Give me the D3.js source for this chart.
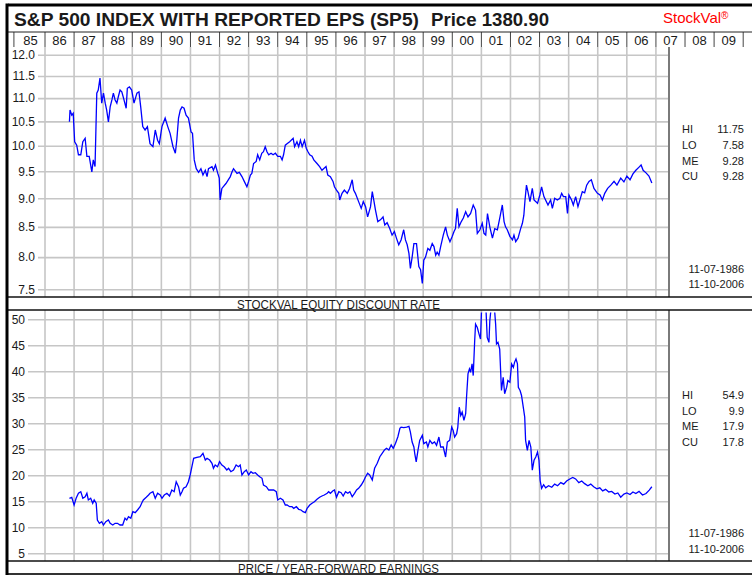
<!DOCTYPE html>
<html>
<head>
<meta charset="utf-8">
<script src="https://cdn.jsdelivr.net/npm/d3@7"></script>
<style>
body { margin: 0; background: #fff; }
svg { display: block; }
text { font-family: "Liberation Sans", Arial, sans-serif; fill: #1a1a1a; }
</style>
</head>
<body>
<div id="chart"></div>
<script>
// year header labels, one per column
var yearLabels = ["85","86","87","88","89","90","91","92","93","94","95","96","97",
                  "98","99","00","01","02","03","04","05","06","07","08","09"];
var rateTicks = [7.5, 8.0, 8.5, 9.0, 9.5, 10.0, 10.5, 11.0, 11.5, 12.0];
var peTicks = [5, 10, 15, 20, 25, 30, 35, 40, 45, 50];
var rateStats = [["HI", "11.75"], ["LO", "7.58"], ["ME", "9.28"], ["CU", "9.28"]];
var peStats = [["HI", "54.9"], ["LO", "9.9"], ["ME", "17.9"], ["CU", "17.8"]];
var dateRange = ["11-07-1986", "11-10-2006"];

// equity discount rate, [decimal year, value]
var discountRate = [
  [1986.84,10.49],[1986.86,10.74],[1986.92,10.63],[1986.97,10.67],[1987.02,10.08],[1987.09,10.01],
  [1987.15,9.82],[1987.23,9.82],[1987.30,10.08],[1987.38,10.15],[1987.44,9.79],[1987.52,9.79],
  [1987.61,9.49],[1987.66,9.72],[1987.72,9.59],[1987.78,11.11],[1987.83,11.18],[1987.89,11.45],
  [1987.95,10.89],[1988.01,11.11],[1988.07,10.89],[1988.12,10.74],[1988.18,10.49],[1988.24,10.81],
  [1988.30,10.96],[1988.35,11.11],[1988.41,10.96],[1988.47,10.89],[1988.52,11.03],[1988.58,11.18],
  [1988.64,11.14],[1988.70,11.00],[1988.79,10.78],[1988.83,11.22],[1988.90,11.25],[1988.98,11.18],
  [1989.06,10.89],[1989.16,11.11],[1989.23,11.14],[1989.29,10.81],[1989.36,10.39],[1989.44,10.32],
  [1989.52,10.39],[1989.61,10.04],[1989.71,9.98],[1989.79,10.32],[1989.87,10.11],[1989.93,10.04],
  [1990.02,10.39],[1990.13,10.57],[1990.22,10.39],[1990.30,10.25],[1990.40,9.98],[1990.48,9.85],
  [1990.53,10.11],[1990.59,10.57],[1990.65,10.74],[1990.71,10.81],[1990.78,10.78],[1990.85,10.63],
  [1990.93,10.57],[1991.02,10.28],[1991.07,10.25],[1991.13,9.72],[1991.20,9.55],[1991.28,9.48],
  [1991.36,9.55],[1991.43,9.43],[1991.51,9.52],[1991.57,9.40],[1991.62,9.55],[1991.74,9.59],
  [1991.79,9.52],[1991.86,9.62],[1991.94,9.46],[1991.99,9.37],[1992.02,8.97],[1992.08,9.18],
  [1992.22,9.27],[1992.30,9.34],[1992.37,9.40],[1992.43,9.49],[1992.48,9.55],[1992.60,9.46],
  [1992.68,9.48],[1992.77,9.40],[1992.85,9.31],[1992.94,9.21],[1993.00,9.31],[1993.06,9.43],
  [1993.11,9.46],[1993.17,9.65],[1993.26,9.69],[1993.31,9.82],[1993.38,9.72],[1993.45,9.85],
  [1993.51,9.88],[1993.57,9.98],[1993.63,9.88],[1993.69,9.82],[1993.77,9.85],[1993.84,9.82],
  [1993.92,9.85],[1994.00,9.79],[1994.09,9.79],[1994.15,9.72],[1994.20,9.82],[1994.26,10.01],
  [1994.32,10.04],[1994.41,10.08],[1994.53,10.15],[1994.58,9.98],[1994.66,10.08],[1994.72,9.98],
  [1994.78,10.11],[1994.84,9.98],[1994.92,10.11],[1994.98,9.95],[1995.04,9.88],[1995.10,9.82],
  [1995.18,9.79],[1995.24,9.72],[1995.35,9.65],[1995.44,9.59],[1995.52,9.52],[1995.66,9.59],
  [1995.72,9.43],[1995.81,9.40],[1995.90,9.31],[1995.95,9.21],[1996.02,9.15],[1996.10,9.09],
  [1996.13,8.97],[1996.21,9.09],[1996.29,9.15],[1996.39,9.09],[1996.47,9.18],[1996.56,9.34],
  [1996.61,9.15],[1996.67,9.09],[1996.78,8.94],[1996.87,8.82],[1996.94,8.94],[1997.02,8.85],
  [1997.09,8.67],[1997.19,8.85],[1997.25,9.12],[1997.30,8.97],[1997.36,8.79],[1997.44,8.59],
  [1997.53,8.62],[1997.62,8.67],[1997.68,8.53],[1997.76,8.57],[1997.85,8.47],[1997.93,8.36],
  [1998.01,8.42],[1998.08,8.31],[1998.16,8.20],[1998.24,8.28],[1998.33,8.45],[1998.39,8.28],
  [1998.45,8.20],[1998.51,8.06],[1998.56,7.82],[1998.62,8.00],[1998.68,8.22],[1998.77,8.22],
  [1998.85,7.85],[1998.91,7.80],[1998.97,7.59],[1999.02,7.95],[1999.08,8.00],[1999.16,8.14],
  [1999.23,8.11],[1999.31,8.22],[1999.37,8.17],[1999.43,8.03],[1999.48,8.08],[1999.54,8.03],
  [1999.60,8.17],[1999.69,8.36],[1999.77,8.50],[1999.83,8.36],[1999.92,8.25],[2000.00,8.34],
  [2000.06,8.42],[2000.11,8.47],[2000.17,8.82],[2000.23,8.50],[2000.31,8.59],[2000.38,8.65],
  [2000.46,8.76],[2000.54,8.67],[2000.63,8.73],[2000.72,8.88],[2000.80,8.79],[2000.86,8.39],
  [2000.95,8.45],[2001.03,8.56],[2001.09,8.39],[2001.15,8.36],[2001.21,8.73],[2001.29,8.50],
  [2001.38,8.31],[2001.46,8.47],[2001.55,8.45],[2001.64,8.67],[2001.72,8.88],[2001.78,8.59],
  [2001.83,8.50],[2001.89,8.45],[2001.98,8.34],[2002.07,8.28],[2002.12,8.36],[2002.18,8.25],
  [2002.26,8.31],[2002.35,8.47],[2002.41,8.56],[2002.46,8.70],[2002.50,8.97],[2002.55,9.24],
  [2002.60,9.12],[2002.67,8.94],[2002.75,9.18],[2002.81,8.97],[2002.93,8.91],[2003.01,9.06],
  [2003.07,9.21],[2003.15,9.03],[2003.29,8.88],[2003.38,8.97],[2003.44,8.82],[2003.52,9.00],
  [2003.61,8.97],[2003.70,9.00],[2003.76,9.09],[2003.82,9.03],[2003.90,9.03],[2003.96,8.73],
  [2004.01,9.06],[2004.10,8.97],[2004.16,8.88],[2004.24,9.03],[2004.32,8.85],[2004.42,9.03],
  [2004.47,9.12],[2004.55,9.10],[2004.62,9.24],[2004.70,9.31],[2004.78,9.34],[2004.87,9.18],
  [2004.99,9.09],[2005.08,9.06],[2005.16,8.97],[2005.24,9.09],[2005.34,9.18],[2005.45,9.24],
  [2005.56,9.31],[2005.66,9.24],[2005.79,9.37],[2005.90,9.30],[2006.00,9.41],[2006.11,9.34],
  [2006.21,9.45],[2006.31,9.52],[2006.42,9.58],[2006.49,9.62],[2006.56,9.52],[2006.66,9.47],
  [2006.76,9.41],[2006.86,9.28]
];

// price / year-forward earnings, [decimal year, value]
var peRatio = [
  [1986.84,15.58],[1986.92,15.77],[1987.00,14.29],[1987.07,15.58],[1987.15,16.54],[1987.23,16.85],
  [1987.30,15.58],[1987.38,15.88],[1987.44,16.54],[1987.49,15.25],[1987.57,15.58],[1987.64,14.62],
  [1987.69,15.25],[1987.76,14.62],[1987.80,11.40],[1987.87,10.77],[1987.95,11.08],[1988.01,10.44],
  [1988.09,11.08],[1988.18,11.40],[1988.24,10.77],[1988.33,10.44],[1988.41,10.77],[1988.49,10.77],
  [1988.58,10.44],[1988.67,10.44],[1988.75,11.73],[1988.81,11.40],[1988.87,12.04],[1988.95,11.73],
  [1989.02,13.00],[1989.10,12.81],[1989.18,13.33],[1989.27,13.96],[1989.33,14.73],[1989.38,15.25],
  [1989.48,15.77],[1989.56,16.21],[1989.61,16.54],[1989.71,16.85],[1989.79,15.58],[1989.87,16.54],
  [1989.96,16.21],[1990.02,15.58],[1990.10,16.21],[1990.19,16.54],[1990.28,16.02],[1990.36,17.17],
  [1990.44,16.85],[1990.51,18.77],[1990.59,17.81],[1990.65,16.21],[1990.71,16.85],[1990.76,17.50],
  [1990.85,17.81],[1990.93,18.77],[1990.99,20.06],[1991.05,21.65],[1991.11,23.27],[1991.22,23.46],
  [1991.34,23.58],[1991.43,24.23],[1991.51,22.94],[1991.57,23.27],[1991.66,22.94],[1991.74,22.31],
  [1991.79,21.35],[1991.85,21.98],[1991.93,21.65],[1992.00,22.62],[1992.08,21.98],[1992.16,21.65],
  [1992.25,21.02],[1992.31,21.35],[1992.39,20.69],[1992.48,21.02],[1992.57,21.98],[1992.65,21.65],
  [1992.71,21.98],[1992.77,20.06],[1992.85,20.69],[1992.92,21.02],[1993.00,20.06],[1993.08,20.69],
  [1993.15,20.38],[1993.23,20.50],[1993.31,20.06],[1993.38,19.73],[1993.46,19.42],[1993.51,18.13],
  [1993.61,17.81],[1993.69,17.17],[1993.77,17.17],[1993.86,17.17],[1993.95,16.85],[1994.00,15.25],
  [1994.09,15.58],[1994.18,15.25],[1994.26,14.29],[1994.32,14.29],[1994.41,13.96],[1994.49,13.96],
  [1994.55,13.65],[1994.64,13.96],[1994.72,13.46],[1994.80,13.33],[1994.87,13.00],[1994.95,12.81],
  [1995.01,13.65],[1995.10,14.29],[1995.18,14.62],[1995.26,14.92],[1995.35,15.38],[1995.44,15.77],
  [1995.52,16.02],[1995.60,16.21],[1995.70,16.54],[1995.75,16.85],[1995.81,16.54],[1995.90,17.04],
  [1995.95,17.17],[1996.02,15.77],[1996.10,16.85],[1996.18,16.65],[1996.25,16.02],[1996.33,16.85],
  [1996.41,16.54],[1996.48,16.85],[1996.56,15.88],[1996.64,16.54],[1996.71,17.17],[1996.78,17.50],
  [1996.87,18.13],[1996.94,18.77],[1997.02,19.73],[1997.09,20.38],[1997.16,20.06],[1997.25,19.10],
  [1997.33,21.35],[1997.42,22.31],[1997.51,23.58],[1997.59,24.23],[1997.67,24.87],[1997.74,25.19],
  [1997.82,24.87],[1997.90,25.83],[1997.97,25.19],[1998.05,26.15],[1998.13,27.42],[1998.20,29.04],
  [1998.24,29.27],[1998.33,29.16],[1998.43,29.27],[1998.51,29.41],[1998.56,28.31],[1998.62,26.40],
  [1998.68,25.44],[1998.71,24.18],[1998.76,22.57],[1998.82,24.81],[1998.88,26.72],[1998.97,27.68],
  [1999.02,26.09],[1999.11,26.40],[1999.16,25.44],[1999.23,26.72],[1999.31,26.09],[1999.39,26.40],
  [1999.46,25.77],[1999.54,27.36],[1999.60,25.44],[1999.69,25.44],[1999.77,23.52],[1999.83,26.40],
  [1999.91,26.72],[1999.98,29.27],[2000.03,28.64],[2000.08,27.36],[2000.15,28.01],[2000.19,29.27],
  [2000.24,33.10],[2000.29,31.51],[2000.34,32.15],[2000.40,30.56],[2000.46,31.84],[2000.49,35.02],
  [2000.54,39.50],[2000.59,40.46],[2000.63,39.81],[2000.68,41.42],[2000.72,39.18],[2000.77,45.88],
  [2000.80,49.08],[2000.86,48.43],[2000.92,47.16],[2000.97,46.21],[2001.01,52.5],[2001.09,54.9],
  [2001.15,53.0],[2001.20,46.51],[2001.26,45.56],[2001.29,49.71],[2001.34,52.5],[2001.43,53.5],
  [2001.49,49.08],[2001.52,45.25],[2001.57,45.56],[2001.63,44.29],[2001.69,36.30],[2001.75,38.85],
  [2001.80,35.67],[2001.87,36.94],[2001.91,38.22],[2001.98,37.90],[2002.04,41.42],[2002.10,40.77],
  [2002.14,41.72],[2002.19,42.38],[2002.24,41.42],[2002.27,36.94],[2002.33,36.30],[2002.38,35.35],
  [2002.44,33.10],[2002.49,31.19],[2002.52,26.72],[2002.58,24.81],[2002.64,26.72],[2002.70,25.44],
  [2002.75,20.98],[2002.81,22.89],[2002.87,23.52],[2002.93,24.48],[2002.98,22.89],[2003.02,19.0],
  [2003.07,17.5],[2003.14,18.2],[2003.21,17.6],[2003.31,18.0],[2003.42,17.7],[2003.52,18.3],
  [2003.62,18.0],[2003.73,18.6],[2003.83,18.3],[2003.93,18.9],[2004.04,19.3],[2004.14,19.6],
  [2004.24,19.3],[2004.35,18.6],[2004.45,18.9],[2004.55,18.4],[2004.66,18.0],[2004.76,18.3],
  [2004.86,17.8],[2004.97,17.4],[2005.07,17.6],[2005.17,17.0],[2005.27,17.3],[2005.38,16.8],
  [2005.48,16.9],[2005.59,16.4],[2005.69,16.6],[2005.79,15.8],[2005.90,16.4],[2006.00,16.6],
  [2006.11,16.3],[2006.21,16.8],[2006.31,16.5],[2006.42,16.9],[2006.49,16.5],[2006.54,16.2],
  [2006.66,16.5],[2006.77,17.15],[2006.86,17.8]
];

var width = 752, height = 575;
var frameLeft = 8, plotRight = 669, frameRight = 752;
var topPanel = {y0: 47, y1: 297},
    botPanel = {y0: 310, y1: 561};

var svg = d3.select("#chart").append("svg")
    .attr("width", width)
    .attr("height", height);

// time axis shared by header and both panels
var x = d3.scaleLinear().domain([1986, 2010]).range([45, 743.2]);
var yRate = d3.scaleLog().domain([7.5, 12]).range([289.3, 54.7]);
var yPe = d3.scaleLinear().domain([5, 50]).range([553.3, 319.3]);

// clip paths for the two plot areas
var defs = svg.append("defs");
defs.append("clipPath").attr("id", "clipTop").append("rect")
    .attr("x", frameLeft).attr("y", topPanel.y0)
    .attr("width", plotRight - frameLeft).attr("height", topPanel.y1 - topPanel.y0);
defs.append("clipPath").attr("id", "clipBot").append("rect")
    .attr("x", frameLeft).attr("y", botPanel.y0 + 2.5)
    .attr("width", plotRight - frameLeft).attr("height", botPanel.y1 - botPanel.y0 - 2.5);

// title row
svg.append("text")
    .attr("x", 14).attr("y", 26)
    .attr("textLength", 405).attr("lengthAdjust", "spacingAndGlyphs")
    .style("font-size", "19px").style("font-weight", "bold")
    .text("S&P 500 INDEX WITH REPORTED EPS (SP5)");
svg.append("text")
    .attr("x", 431).attr("y", 26)
    .attr("textLength", 118).attr("lengthAdjust", "spacingAndGlyphs")
    .style("font-size", "19px").style("font-weight", "bold")
    .text("Price 1380.90");
var brand = svg.append("text")
    .attr("x", 663).attr("y", 23)
    .style("font-size", "15px").style("fill", "#ff0000")
    .text("StockVal");
brand.append("tspan").attr("dy", -4).style("font-size", "10px").text("®");

// year header
var yearStarts = d3.range(1985, 2011);
svg.selectAll(".yearSep")
    .data(yearStarts)
    .enter().append("line")
    .attr("x1", function(d) { return x(d) - (d === 1985 ? 2 : 0); })
    .attr("x2", function(d) { return x(d) - (d === 1985 ? 2 : 0); })
    .attr("y1", 32).attr("y2", topPanel.y0)
    .attr("stroke", "#444").attr("stroke-width", 1);
svg.selectAll(".yearLabel")
    .data(yearLabels)
    .enter().append("text")
    .attr("x", function(d, i) { return x(1985 + i + 0.5); })
    .attr("y", 44.5)
    .attr("text-anchor", "middle")
    .style("font-size", "13px")
    .text(function(d) { return d; });

// vertical grid lines at year boundaries
var gridYears = d3.range(1986, 2008);
[topPanel, botPanel].forEach(function(p) {
    svg.append("g")
        .selectAll("line")
        .data(gridYears)
        .enter().append("line")
        .attr("x1", function(d) { return x(d); })
        .attr("x2", function(d) { return x(d); })
        .attr("y1", p.y0).attr("y2", p.y1)
        .attr("stroke", "#c6c6c6").attr("stroke-width", 1.6);
});

// horizontal grid + tick labels via axes
function gridAxis(scale, ticks, fmt, left) {
    var g = svg.append("g")
        .attr("transform", "translate(" + left + ",0)")
        .call(d3.axisLeft(scale)
            .tickValues(ticks)
            .tickFormat(fmt)
            .tickSize(-(plotRight - left))
            .tickPadding(3));
    g.select(".domain").remove();
    g.selectAll(".tick line").attr("stroke", "#c6c6c6").attr("stroke-width", 1.6);
    g.selectAll(".tick text")
        .style("font-family", "'Liberation Sans', Arial, sans-serif")
        .style("font-size", "12px").style("fill", "#1a1a1a");
}
gridAxis(yRate, rateTicks, d3.format(".1f"), 38);
gridAxis(yPe, peTicks, d3.format("d"), 28);

// series lines
var rateLine = d3.line()
    .x(function(d) { return x(d[0]); })
    .y(function(d) { return yRate(d[1]); });
var peLine = d3.line()
    .x(function(d) { return x(d[0]); })
    .y(function(d) { return yPe(d[1]); });

svg.append("path")
    .datum(discountRate)
    .attr("clip-path", "url(#clipTop)")
    .attr("d", rateLine)
    .attr("fill", "none").attr("stroke", "#0000ff").attr("stroke-width", 1.3);
svg.append("path")
    .datum(peRatio)
    .attr("clip-path", "url(#clipBot)")
    .attr("d", peLine)
    .attr("fill", "none").attr("stroke", "#0000ff").attr("stroke-width", 1.3);

// right divider of plot areas
[topPanel, botPanel].forEach(function(p) {
    svg.append("line")
        .attr("x1", plotRight).attr("x2", plotRight)
        .attr("y1", p.y0).attr("y2", p.y1)
        .attr("stroke", "#7a7a7a").attr("stroke-width", 2);
});

// stats boxes
function statsBlock(stats, baseY, dateY) {
    stats.forEach(function(s, i) {
        svg.append("text").attr("x", 682).attr("y", baseY + i * 15.6)
            .style("font-size", "11px").text(s[0]);
        svg.append("text").attr("x", 744).attr("y", baseY + i * 15.6)
            .attr("text-anchor", "end").style("font-size", "11px").text(s[1]);
    });
    dateRange.forEach(function(d, i) {
        svg.append("text").attr("x", 744).attr("y", dateY + i * 15.4)
            .attr("text-anchor", "end").style("font-size", "11px").text(d);
    });
}
statsBlock(rateStats, 133.3, 273);
statsBlock(peStats, 399, 537.3);

// panel captions
svg.append("text").attr("x", 237).attr("y", 308.5)
    .attr("textLength", 203).attr("lengthAdjust", "spacingAndGlyphs")
    .style("font-size", "12px")
    .text("STOCKVAL EQUITY DISCOUNT RATE");
svg.append("text").attr("x", 238).attr("y", 572.5)
    .attr("textLength", 201).attr("lengthAdjust", "spacingAndGlyphs")
    .style("font-size", "12px")
    .text("PRICE / YEAR-FORWARD EARNINGS");

// frame lines
var hLines = [
    {y: 5, w: 3, c: "#000"},
    {y: 32, w: 1, c: "#222"},
    {y: topPanel.y1, w: 1.5, c: "#111"},
    {y: botPanel.y0, w: 1.5, c: "#111"},
    {y: botPanel.y1, w: 1.5, c: "#111"},
    {y: 574, w: 2, c: "#333"}
];
svg.selectAll(".hframe")
    .data(hLines)
    .enter().append("line")
    .attr("x1", frameLeft).attr("x2", frameRight)
    .attr("y1", function(d) { return d.y; })
    .attr("y2", function(d) { return d.y; })
    .attr("stroke", function(d) { return d.c; })
    .attr("stroke-width", function(d) { return d.w; });
svg.append("line")
    .attr("x1", 7).attr("x2", 7).attr("y1", 3.5).attr("y2", 575)
    .attr("stroke", "#000").attr("stroke-width", 3);
</script>
</body>
</html>
